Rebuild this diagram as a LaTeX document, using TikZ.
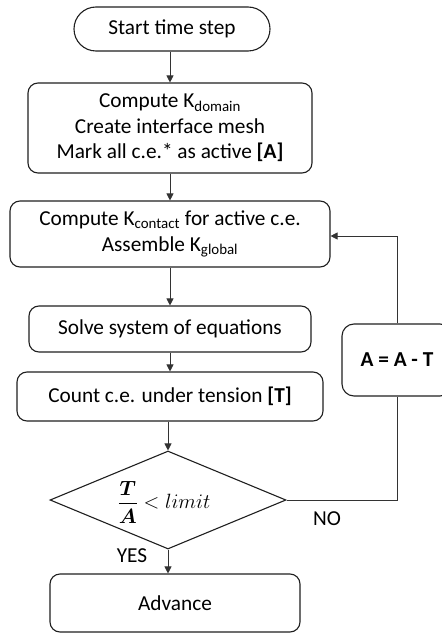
\documentclass[tikz,border=0pt]{standalone}
\usepackage{amsmath}
\usepackage{bm}
\usepackage{fontspec}
\setmainfont{Carlito}
\usetikzlibrary{shapes.geometric,shapes.misc,arrows.meta}
\tikzset{
  base/.style={draw=black!88, line width=1.1bp, inner sep=0pt, align=center,
    font=\fontsize{21.3bp}{25.5bp}\selectfont},
  procbox/.style={base, rounded corners=10bp},
  termbox/.style={base, rounded rectangle},
  flow/.style={draw=black!80, line width=0.8bp},
  arr/.style={flow, -{Triangle[length=7bp,width=7bp]}},
  lbl/.style={font=\fontsize{21.3bp}{24bp}\selectfont, inner sep=0pt}
}
\begin{document}
\begin{tikzpicture}[x=1bp,y=-1bp]
\useasboundingbox (0,0) rectangle (442,634);
% main chain
\node[termbox, minimum width=196bp, minimum height=44bp] (start) at (172,29) {Start time step};
\node[procbox, minimum width=284bp, minimum height=90bp] (init) at (170,128)
  {Compute K\textsubscript{domain}\\Create interface mesh\\Mark all c.e.* as active \textbf{[A]}};
\node[procbox, minimum width=320bp, minimum height=66bp] (asm) at (170,234)
  {Compute K\textsubscript{contact} for active c.e.\\Assemble K\textsubscript{global}};
\node[procbox, minimum width=282bp, minimum height=46bp] (solve) at (170,329) {Solve system of equations};
\node[procbox, minimum width=306bp, minimum height=49bp] (count) at (170,396.5) {Count c.e. under tension \textbf{[T]}};
\node[base, diamond, minimum width=236bp, minimum height=98bp, aspect=2.4] (dec) at (168,500) {};
\node[inner sep=0pt, font=\fontsize{21bp}{25bp}\selectfont] (cond) at (164,502)
  {$\dfrac{\bm{T}}{\bm{A}} < limit$};
\node[procbox, minimum width=250bp, minimum height=58bp] (adv) at (175,603) {Advance};
% correction box on the loop
\node[procbox, rounded corners=12bp, minimum width=110bp, minimum height=72bp] (upd) at (397,360)
  {\textbf{A = A - T}};
% labels
\node[lbl] (no) at (327,519) {NO};
\node[lbl] (yes) at (132,556) {YES};
% connectors
\draw[arr] (start.south -| init.north) -- (init.north);
\draw[arr] (init) -- (asm);
\draw[arr] (asm) -- (solve);
\draw[arr] (solve) -- (count);
\draw[arr] (count.south -| dec.north) -- (dec.north);
\draw[arr] (dec.south) -- (dec.south |- adv.north);
\draw[flow] (dec.east) -| (upd.south);
\draw[arr] (upd.north) |- ([yshift=-2bp]asm.east);
\end{tikzpicture}
\end{document}
